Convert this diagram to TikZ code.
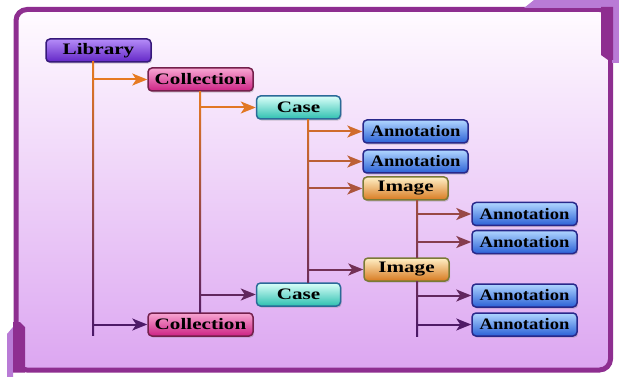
\documentclass[tikz,border=0pt]{standalone}
\usepackage{fontspec}
\setmainfont{Liberation Serif}
\usetikzlibrary{arrows.meta,shadows}

\definecolor{orng}{HTML}{E67A22}
\definecolor{purp}{HTML}{4A1868}
\definecolor{framec}{HTML}{8E2E90}
\definecolor{framelt}{HTML}{B97BD6}
\definecolor{bgtop}{HTML}{FFFBFF}
\definecolor{bgmid}{HTML}{ECD0F9}
\definecolor{bgbot}{HTML}{DCA6F1}

\definecolor{libD}{HTML}{36187A}\definecolor{libT}{HTML}{B58CF8}
\definecolor{libM}{HTML}{8048E6}\definecolor{libB}{HTML}{6226C6}
\definecolor{colD}{HTML}{74204C}\definecolor{colT}{HTML}{F8A6D2}
\definecolor{colM}{HTML}{E455A6}\definecolor{colB}{HTML}{CC2284}
\definecolor{casD}{HTML}{2A6A98}\definecolor{casT}{HTML}{DAFFF9}
\definecolor{casM}{HTML}{7EE8DC}\definecolor{casB}{HTML}{2EC0B0}
\definecolor{annD}{HTML}{28288A}\definecolor{annT}{HTML}{B0D6FF}
\definecolor{annM}{HTML}{639CF0}\definecolor{annB}{HTML}{2A60D6}
\definecolor{imgD}{HTML}{7A7A36}\definecolor{imgT}{HTML}{FFF0C6}
\definecolor{imgM}{HTML}{F4BA70}\definecolor{imgB}{HTML}{D87A20}

\tikzset{
  nbox/.style={rounded corners=4pt, line width=1.5pt, inner sep=0pt,
    minimum height=23pt, text=black,
    font=\fontsize{16}{16}\selectfont\bfseries,
    drop shadow={opacity=0.35, shadow xshift=1.2pt, shadow yshift=-1.6pt}},
  libbox/.style={nbox, draw=libD, top color=libT, middle color=libM, bottom color=libB, minimum width=105pt},
  colbox/.style={nbox, draw=colD, top color=colT, middle color=colM, bottom color=colB, minimum width=105pt},
  casebox/.style={nbox, draw=casD, top color=casT, middle color=casM, bottom color=casB, minimum width=84pt},
  annbox/.style={nbox, draw=annD, top color=annT, middle color=annM, bottom color=annB, minimum width=105pt},
  imgbox/.style={nbox, draw=imgD, top color=imgT, middle color=imgM, bottom color=imgB, minimum width=85pt},
  conn/.style={line width=2pt, -{Stealth[length=15pt,width=12pt,inset=4pt]}},
}

\newcommand{\wtxt}[1]{\scalebox{1.32}[1]{#1}}
\newcommand{\watxt}[1]{\scalebox{1.16}[1]{#1}}

\begin{document}
\begin{tikzpicture}[x=1pt,y=-1pt]
\useasboundingbox (0,0) rectangle (619,377);
\fill[white] (0,0) rectangle (619,377);

% frame
\shadedraw[draw=framec, line width=5pt, rounded corners=11pt,
  top color=bgtop, middle color=bgmid, bottom color=bgbot]
  (16,9.5) rectangle (610.5,370);
% top-right tab
\fill[framelt] (524,8) -- (534,0) -- (619,0) -- (619,63) -- (612,63) -- (612,8) -- cycle;
\fill[framec] (601,7) -- (613,7) -- (613,60) -- (608,60) -- (601,55) -- cycle;
% bottom-left tab
\fill[framelt] (7,334) -- (13,327) -- (13,377) -- (7,377) -- cycle;
\fill[framec] (13,322) -- (20,322) -- (25,327) -- (25,372.5) -- (13,372.5) -- cycle;

% nodes
\node[libbox]  (lib)   at (98.5,50.5)  {\wtxt{Library}};
\node[colbox]  (col1)  at (200.5,79.5) {\wtxt{Collection}};
\node[casebox] (case1) at (298.5,107.5){\wtxt{Case}};
\node[annbox]  (ann1)  at (415.5,131.5){\watxt{Annotation}};
\node[annbox]  (ann2)  at (415.5,161.5){\watxt{Annotation}};
\node[imgbox]  (img1)  at (405.5,188.5){\wtxt{Image}};
\node[annbox]  (ann3)  at (524.5,214)  {\watxt{Annotation}};
\node[annbox]  (ann4)  at (524.5,242)  {\watxt{Annotation}};
\node[imgbox]  (img2)  at (406.5,269.5){\wtxt{Image}};
\node[casebox] (case2) at (298.5,294.5){\wtxt{Case}};
\node[annbox]  (ann5)  at (524.5,295.5){\watxt{Annotation}};
\node[annbox]  (ann6)  at (524.5,324.5){\watxt{Annotation}};
\node[colbox]  (col2)  at (200.5,324.5){\wtxt{Collection}};

% trunk coordinates
\coordinate (tA) at (93,62);
\coordinate (tAe) at (93,335);
\coordinate (tB) at (200,91);
\coordinate (tC) at (308,119);
\coordinate (tD) at (417,0);
\coordinate (tDe) at (417,336);

% trunks (shaded bars, orange at top to purple at bottom)
\shade[top color=orng, bottom color=purp] ([xshift=-1pt]tA) rectangle ([xshift=1pt]tAe);
\shade[top color=orng, bottom color=purp!92!orng] ([xshift=-1pt]col1.south -| tB) rectangle ([xshift=1pt]col2.north -| tB);
\shade[top color=purp!8!orng, bottom color=purp!79!orng] ([xshift=-1pt]case1.south -| tC) rectangle ([xshift=1pt]case2.north -| tC);
\shade[top color=purp!43!orng, bottom color=purp!69!orng] ([xshift=-1pt]img1.south -| tD) rectangle ([xshift=1pt]img2.north -| tD);
\shade[top color=purp!79!orng, bottom color=purp] ([xshift=-1pt]img2.south -| tD) rectangle ([xshift=1pt]tDe);

% branches
\draw[conn, orng]           (tA |- col1.west)  -- (col1.west);
\draw[conn, purp!98!orng]   (tA |- col2.west)  -- (col2.west);
\draw[conn, purp!3!orng]    (tB |- case1.west) -- (case1.west);
\draw[conn, purp!85!orng]   (tB |- case2.west) -- (case2.west);
\draw[conn, purp!14!orng]   (tC |- ann1.west)  -- (ann1.west);
\draw[conn, purp!27!orng]   (tC |- ann2.west)  -- (ann2.west);
\draw[conn, purp!38!orng]   (tC |- img1.west)  -- (img1.west);
\draw[conn, purp!74!orng]   (tC |- img2.west)  -- (img2.west);
\draw[conn, purp!50!orng]   (tD |- ann3.west)  -- (ann3.west);
\draw[conn, purp!62!orng]   (tD |- ann4.west)  -- (ann4.west);
\draw[conn, purp!85!orng]   (tD |- ann5.west)  -- (ann5.west);
\draw[conn, purp!97!orng]   (tD |- ann6.west)  -- (ann6.west);
\end{tikzpicture}
\end{document}
